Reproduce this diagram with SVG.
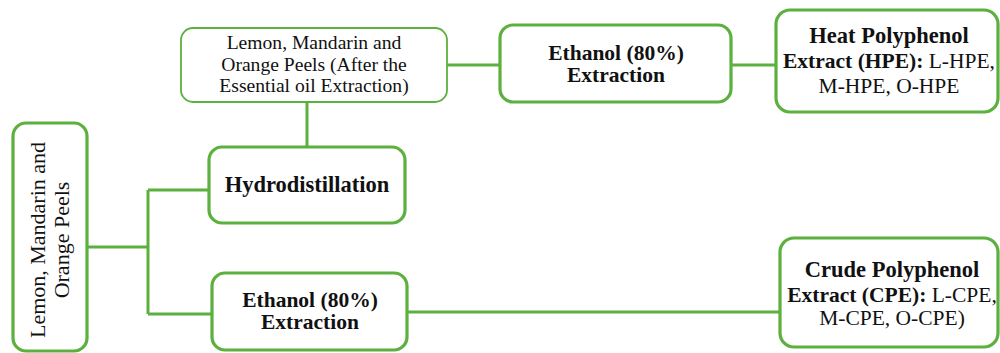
<svg xmlns="http://www.w3.org/2000/svg" width="1000" height="353" viewBox="0 0 1000 353">
<style>
.box{fill:#fff;stroke:#5cb03e;stroke-width:3.2}
.thin{fill:#fff;stroke:#5cb03e;stroke-width:1.8}
.con{fill:none;stroke:#5cb03e;stroke-width:3;stroke-linecap:butt}
text{font-family:"Liberation Serif","Times New Roman",serif;fill:#111;text-anchor:middle}
.b{font-weight:bold}
.r{font-weight:normal}
</style>
<rect width="1000" height="353" fill="#fff"/>
<g id="connectors">
<path class="con" d="M307 102 V147"/>
<path class="con" d="M447 65 H500"/>
<path class="con" d="M731 65 H776"/>
<path class="con" d="M87 247 H148 M148 190 V314 M148 190 H209 M148 314 H212"/>
<path class="con" d="M407 312 H780"/>
</g>
<g id="peels-after">
<rect class="thin" x="181" y="28" width="266" height="74" rx="12"/>
<text font-size="19.6"><tspan x="314" y="49">Lemon, Mandarin and</tspan><tspan x="314" y="71">Orange Peels (After the</tspan><tspan x="314" y="92">Essential oil Extraction)</tspan></text>
</g>
<g id="ethanol-top">
<rect class="box" x="500" y="25" width="231" height="77" rx="13"/>
<text class="b" font-size="21.5"><tspan x="616" y="60">Ethanol (80%)</tspan><tspan x="616" y="82">Extraction</tspan></text>
</g>
<g id="hpe">
<rect class="box" x="776" y="10" width="222" height="102" rx="14"/>
<text font-size="21.5"><tspan x="889" y="43" class="b" font-size="22.5">Heat Polyphenol</tspan><tspan x="889" y="68"><tspan class="b">Extract (HPE):</tspan> L-HPE,</tspan><tspan x="889" y="93">M-HPE, O-HPE</tspan></text>
</g>
<g id="peels">
<rect class="box" x="13" y="123" width="74" height="228" rx="13"/>
<text font-size="22" transform="translate(0,240) rotate(-90)"><tspan x="0" y="45">Lemon, Mandarin and</tspan><tspan x="0" y="69">Orange Peels</tspan></text>
</g>
<g id="hydro">
<rect class="box" x="209" y="147" width="196" height="76" rx="13"/>
<text class="b" font-size="22.5" x="307" y="192">Hydrodistillation</text>
</g>
<g id="ethanol-bottom">
<rect class="box" x="212" y="273" width="195" height="77" rx="13"/>
<text class="b" font-size="21.5"><tspan x="310" y="307">Ethanol (80%)</tspan><tspan x="310" y="329">Extraction</tspan></text>
</g>
<g id="cpe">
<rect class="box" x="780" y="238" width="218" height="109" rx="14"/>
<text font-size="21.5"><tspan x="892" y="277" class="b" font-size="22.5">Crude Polyphenol</tspan><tspan x="892" y="302"><tspan class="b">Extract (CPE):</tspan> L-CPE,</tspan><tspan x="892" y="325">M-CPE, O-CPE)</tspan></text>
</g>
</svg>
